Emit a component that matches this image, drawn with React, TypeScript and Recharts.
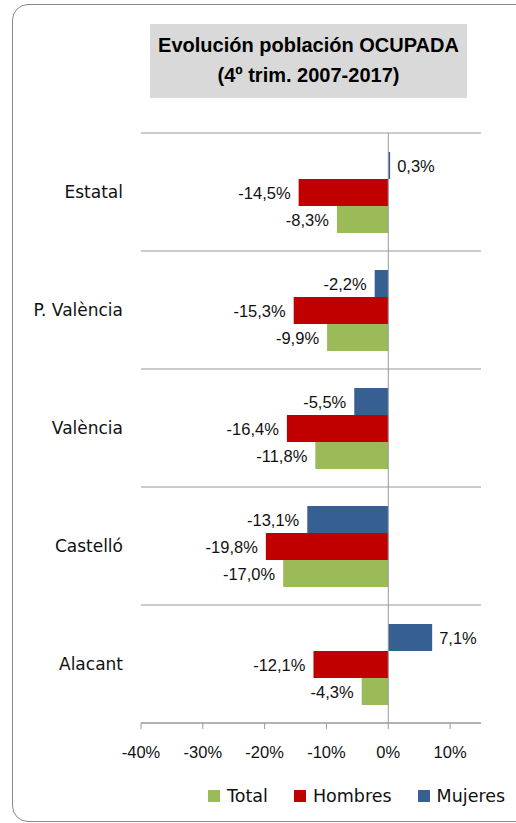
import React from 'react';
import {
    BarChart,
    Bar,
    XAxis,
    YAxis,
    CartesianGrid,
    ReferenceLine,
    LabelList
} from 'recharts';

const categories = ['Estatal', 'P. València', 'València', 'Castelló', 'Alacant'];
const mujeres = [0.3, -2.2, -5.5, -13.1, 7.1];
const hombres = [-14.5, -15.3, -16.4, -19.8, -12.1];
const total = [-8.3, -9.9, -11.8, -17.0, -4.3];
const xTicks = [-40, -30, -20, -10, 0, 10];

const COLORS = { Total: '#9BBB59', Hombres: '#C00000', Mujeres: '#376092' };
const legendOrder = ['Total', 'Hombres', 'Mujeres'] as const;

const data = categories.map((name, i) => ({
    name,
    Mujeres: mujeres[i],
    Hombres: hombres[i],
    Total: total[i]
}));

const fmt = (v: number) => `${v.toFixed(1).replace('.', ',')}%`;
const numFont = '"Liberation Sans", Arial, sans-serif';
const catFont = '"DejaVu Sans", sans-serif';

// label to the left of negative bars, to the right of positive ones
const BarLabel = (props: any) => {
    const { x, y, width, height, value } = props;
    const v = Number(value);
    const left = Math.min(x, x + width);
    const right = Math.max(x, x + width);
    const neg = v < 0;
    return (
        <text
            x={neg ? left - 8 : right + 7}
            y={y + height / 2}
            textAnchor={neg ? 'end' : 'start'}
            dominantBaseline="central"
            fontFamily={numFont}
            fontSize={16.5}
            fill="#111"
        >
            {fmt(v)}
        </text>
    );
};

export default function App() {
    return (
        <div style={{ position: 'relative', width: 516, height: 823, overflow: 'hidden', background: '#fff' }}>
            <style>{'body{margin:0}'}</style>

            {/* outer frame */}
            <div
                style={{
                    position: 'absolute',
                    left: 12,
                    top: 4,
                    width: 530,
                    height: 816,
                    border: '1.5px solid #8a8a8a',
                    borderRadius: 16
                }}
            />

            {/* title */}
            <div
                style={{
                    position: 'absolute',
                    left: 150,
                    top: 24,
                    width: 317,
                    height: 74,
                    background: '#D9D9D9',
                    fontFamily: numFont,
                    fontWeight: 'bold',
                    fontSize: 20,
                    lineHeight: '30px',
                    textAlign: 'center',
                    color: '#000',
                    paddingTop: 6,
                    boxSizing: 'border-box'
                }}
            >
                Evolución población OCUPADA
                <br />
                (4º trim. 2007-2017)
            </div>

            <div style={{ position: 'absolute', left: 0, top: 0 }}>
                <BarChart
                    layout="vertical"
                    width={516}
                    height={823}
                    data={data}
                    margin={{ top: 133, right: 35, bottom: 60, left: 0 }}
                    barGap={0}
                    barSize={27}
                >
                    <CartesianGrid
                        vertical={false}
                        stroke="#999"
                        horizontalCoordinatesGenerator={({ offset }: any) =>
                            Array.from(
                                { length: categories.length + 1 },
                                (_, i) => offset.top + (i * offset.height) / categories.length
                            )
                        }
                    />
                    <XAxis
                        type="number"
                        domain={[-40, 15]}
                        ticks={xTicks}
                        tickFormatter={(v) => `${v}%`}
                        height={40}
                        stroke="#999"
                        tickSize={6}
                        tickMargin={17}
                        tick={{ fill: '#111', fontSize: 16.5, fontFamily: numFont }}
                    />
                    <YAxis
                        type="category"
                        dataKey="name"
                        width={141}
                        axisLine={false}
                        tickLine={false}
                        tickSize={0}
                        tickMargin={18}
                        tick={{ fill: '#111', fontSize: 17, fontFamily: catFont }}
                    />
                    <Bar dataKey="Mujeres" fill={COLORS.Mujeres} isAnimationActive={false}>
                        <LabelList dataKey="Mujeres" content={BarLabel} />
                    </Bar>
                    <Bar dataKey="Hombres" fill={COLORS.Hombres} isAnimationActive={false}>
                        <LabelList dataKey="Hombres" content={BarLabel} />
                    </Bar>
                    <Bar dataKey="Total" fill={COLORS.Total} isAnimationActive={false}>
                        <LabelList dataKey="Total" content={BarLabel} />
                    </Bar>
                    <ReferenceLine x={0} stroke="#999" />
                </BarChart>
            </div>

            {/* legend */}
            <div
                style={{
                    position: 'absolute',
                    left: 208,
                    top: 786,
                    display: 'flex',
                    alignItems: 'center',
                    fontFamily: catFont,
                    fontSize: 17.5,
                    color: '#111'
                }}
            >
                {legendOrder.map((k, i) => (
                    <div key={k} style={{ display: 'flex', alignItems: 'center', marginLeft: i === 0 ? 0 : 26 }}>
                        <span style={{ width: 12, height: 12, background: COLORS[k], marginRight: 7, display: 'inline-block' }} />
                        <span>{k}</span>
                    </div>
                ))}
            </div>
        </div>
    );
}
